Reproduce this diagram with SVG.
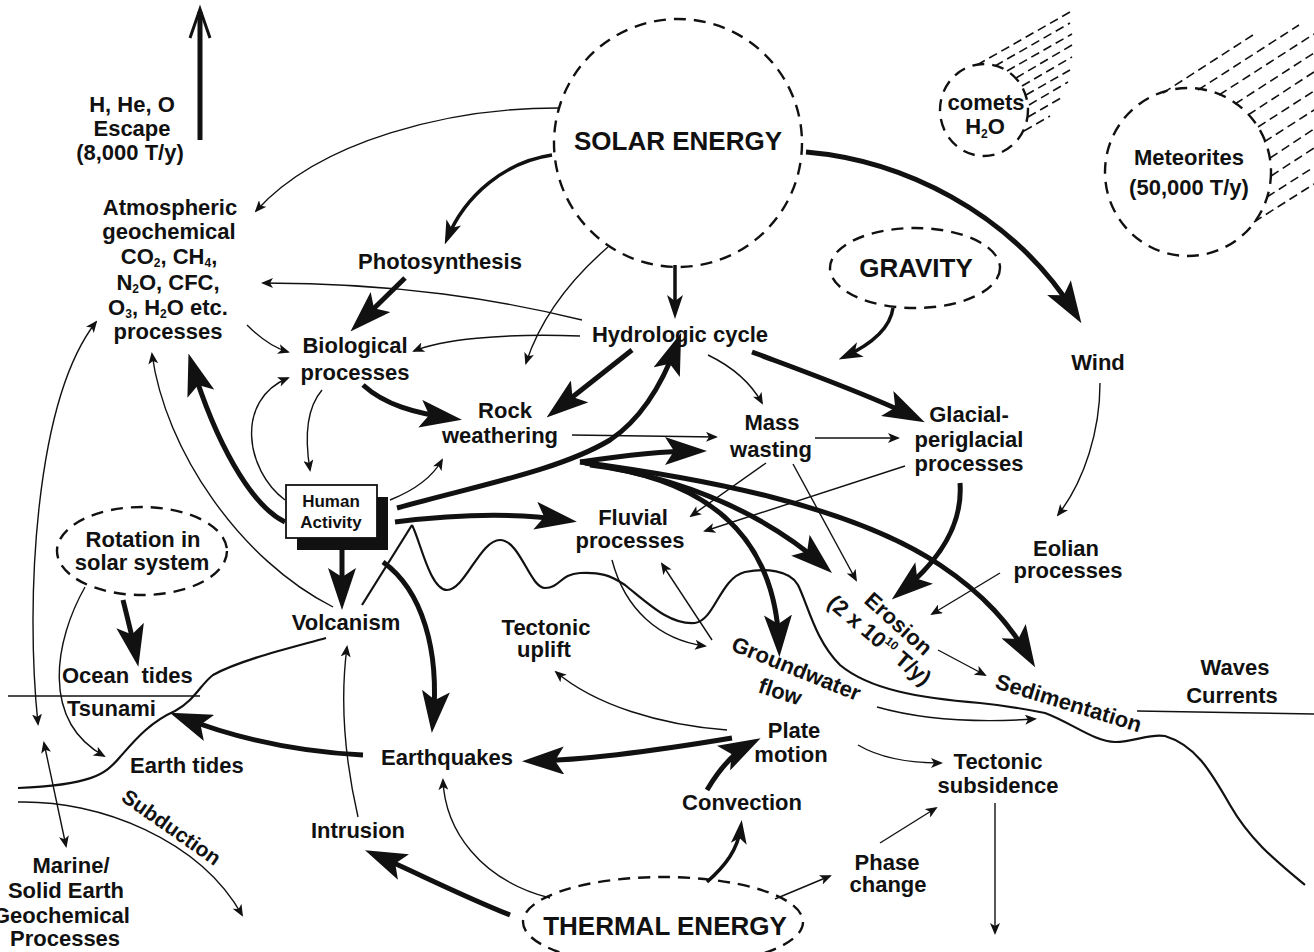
<svg xmlns="http://www.w3.org/2000/svg" width="1314" height="952" viewBox="0 0 1314 952">
<defs>
<style>
text{font-family:"Liberation Sans",Arial,Helvetica,sans-serif;font-weight:bold;font-size:22px;fill:#111}
.big{font-size:26px}
.sm{font-size:17px}
.sub{font-size:12px}
.sup{font-size:12px}
.dash{fill:none;stroke:#111;stroke-width:2.4;stroke-dasharray:12 8}
.tail{fill:none;stroke:#111;stroke-width:1.6;stroke-dasharray:9 5}
.thin{fill:none;stroke:#111;stroke-width:1.4;marker-end:url(#ah)}
.dbl{fill:none;stroke:#111;stroke-width:1.4;marker-end:url(#ah);marker-start:url(#ahs)}
.med{fill:none;stroke:#111;stroke-width:3.5;marker-end:url(#am)}
.thick{fill:none;stroke:#111;stroke-width:5;marker-end:url(#ab)}
.line{fill:none;stroke:#111;stroke-width:2.2}
.line1{fill:none;stroke:#111;stroke-width:1.5}
</style>
<marker id="ah" markerUnits="userSpaceOnUse" markerWidth="12" markerHeight="10" refX="10" refY="5" orient="auto"><path d="M0,0 L12,5 L0,10 L3,5 z" fill="#111"/></marker>
<marker id="ahs" markerUnits="userSpaceOnUse" markerWidth="12" markerHeight="10" refX="10" refY="5" orient="auto-start-reverse"><path d="M0,0 L12,5 L0,10 L3,5 z" fill="#111"/></marker>
<marker id="am" markerUnits="userSpaceOnUse" markerWidth="24" markerHeight="16" refX="18" refY="8" orient="auto"><path d="M0,0 L24,8 L0,16 L6,8 z" fill="#111"/></marker>
<marker id="ab" markerUnits="userSpaceOnUse" markerWidth="42" markerHeight="28" refX="30" refY="14" orient="auto"><path d="M0,0 L42,14 L0,28 L9,14 z" fill="#111"/></marker>
</defs>
<rect width="1314" height="952" fill="#fff"/>

<g id="terrain">
<path class="line1" d="M8,696 L200,696"/>
<path class="line1" d="M1137,711 L1314,714"/>
<path class="line" d="M412,525 L362,605"/>
<path class="line" d="M326,638 C290,648 240,660 213,675 C200,685 195,700 175,711 C150,722 135,740 120,757 C105,775 90,785 18,788"/>
<path class="line" d="M412,525 C420,540 430,590 447,590 C465,590 480,540 500,540 C520,540 530,588 545,588 C560,588 560,574 580,573 C600,572 610,575 625,585 C650,605 670,625 695,623 C715,620 720,578 745,572 C765,568 790,570 798,585 C808,605 815,640 840,665 C870,690 920,698 980,703 C1010,706 1030,710 1045,713 C1070,722 1095,742 1115,742 C1135,742 1150,733 1165,736 C1195,745 1210,770 1230,805 C1250,840 1275,860 1305,885"/>
</g>

<g id="connectors">
<path d="M200,140 L200,12" fill="none" stroke="#111" stroke-width="5"/>
<path d="M190,38 L200,9 L210,38" fill="none" stroke="#111" stroke-width="3"/>
<path class="thin" d="M558,108 C450,108 320,140 256,211"/>
<path class="med" d="M552,155 C505,162 465,195 447,239"/>
<path class="med" d="M675,265 L675,313"/>
<path class="thin" d="M608,247 C570,280 540,320 526,363"/>
<path class="thick" d="M806,152 C900,160 1010,210 1075,313"/>
<path class="med" d="M893,308 C890,330 870,345 844,357"/>
<path class="thick" d="M405,278 L359,323"/>
<path class="thin" d="M582,320 C500,300 400,283 263,283"/>
<path class="thin" d="M580,336 C500,333 440,340 414,351"/>
<path class="thin" d="M247,325 C262,340 275,348 288,352"/>
<path class="thick" d="M363,385 C385,405 415,413 450,418"/>
<path class="thin" d="M322,390 C305,410 305,440 310,470"/>
<path class="thin" d="M285,500 C245,470 235,400 288,378"/>
<path class="thick" d="M285,522 C250,505 215,440 192,365"/>
<path class="thin" d="M333,607 C240,560 165,450 152,354"/>
<path class="thick" d="M342,550 L342,598"/>
<path class="thin" d="M390,500 C415,490 432,478 442,460"/>
<path class="thick" d="M397,508 C480,485 560,470 610,440 C640,420 662,385 677,344"/>
<path class="thick" d="M580,462 C620,456 660,451 695,451"/>
<path class="thin" d="M572,435 L716,437"/>
<path class="thin" d="M815,438 L898,438"/>
<path class="thick" d="M632,350 L556,410"/>
<path class="thin" d="M708,355 C735,368 752,385 762,403"/>
<path class="thick" d="M752,352 C800,370 870,395 914,417"/>
<path class="thick" d="M960,483 C963,525 940,560 901,592"/>
<path class="thin" d="M1100,383 C1100,430 1085,480 1058,515"/>
<path class="thin" d="M1000,573 L932,614"/>
<path class="thick" d="M580,462 C700,478 850,505 940,565 C985,595 1010,625 1029,657"/>
<path class="thick" d="M585,463 C680,478 760,510 823,565"/>
<path class="thick" d="M590,465 C700,478 775,530 779,645"/>
<path class="thin" d="M766,463 L691,516"/>
<path class="thin" d="M905,466 L705,531"/>
<path class="thin" d="M793,464 L856,580"/>
<path class="thick" d="M395,522 C450,515 510,512 565,520"/>
<path class="thick" d="M383,562 C422,590 440,650 433,721"/>
<path class="thick" d="M363,755 C300,752 240,740 181,717"/>
<path class="thick" d="M732,738 C660,750 590,760 534,761"/>
<path class="thin" d="M727,730 C660,725 595,705 556,672"/>
<path class="thick" d="M707,790 C720,768 735,752 750,744"/>
<path class="med" d="M707,882 C725,866 738,850 741,826"/>
<path class="thin" d="M550,898 C480,880 445,830 443,780"/>
<path class="thick" d="M510,915 C460,895 415,872 376,855"/>
<path class="thin" d="M775,899 L830,876"/>
<path class="thin" d="M880,843 L936,808"/>
<path class="thin" d="M358,817 C345,760 340,700 347,647"/>
<path class="thin" d="M858,745 C880,758 910,763 941,763"/>
<path class="thin" d="M877,707 C930,722 990,722 1035,719"/>
<path class="thin" d="M712,640 L662,564"/>
<path class="thin" d="M612,560 C625,610 660,640 705,646"/>
<path class="thin" d="M938,650 L985,675"/>
<path class="thin" d="M85,587 C55,640 40,720 104,756"/>
<path class="thick" d="M123,600 C128,620 133,640 136,655"/>
<path class="dbl" d="M38,724 C25,600 35,400 96,322"/>
<path class="dbl" d="M44,743 L66,846"/>
<path class="thin" d="M995,803 L995,933"/>
<path class="thin" d="M18,802 C100,800 200,840 242,915"/>
</g>

<g id="escape">
<text x="132" y="112" text-anchor="middle">H, He, O</text>
<text x="132" y="136" text-anchor="middle">Escape</text>
<text x="130" y="160" text-anchor="middle">(8,000 T/y)</text>
</g>

<g id="atmospheric">
<text x="170" y="215" text-anchor="middle">Atmospheric</text>
<text x="169" y="239" text-anchor="middle">geochemical</text>
<text x="169" y="264" text-anchor="middle">CO<tspan class="sub" dy="3">2</tspan><tspan dy="-3">, CH</tspan><tspan class="sub" dy="3">4</tspan><tspan dy="-3">,</tspan></text>
<text x="168" y="290" text-anchor="middle">N<tspan class="sub" dy="3">2</tspan><tspan dy="-3">O, CFC,</tspan></text>
<text x="168" y="315" text-anchor="middle">O<tspan class="sub" dy="3">3</tspan><tspan dy="-3">, H</tspan><tspan class="sub" dy="3">2</tspan><tspan dy="-3">O etc.</tspan></text>
<text x="168" y="339" text-anchor="middle">processes</text>
</g>

<g id="solar">
<circle class="dash" cx="678" cy="143" r="124"/>
<text class="big" x="678" y="150" text-anchor="middle">SOLAR ENERGY</text>
</g>

<g id="comets">
<path class="tail" d="M977,65 L1070,12 M995,66 L1070,23 M1007,71 L1072,34 M1016,78 L1072,45 M1022,86 L1072,57 M1026,95 L1070,70 M1029,105 L1068,82 M1028,117 L1061,98 M1024,131 L1050,116"/>
<ellipse class="dash" cx="984" cy="110" rx="44" ry="46"/>
<text x="986" y="110" text-anchor="middle">comets</text>
<text x="985" y="134" text-anchor="middle">H<tspan class="sub" dy="4">2</tspan><tspan dy="-4">O</tspan></text>
</g>

<g id="meteorites">
<path class="tail" d="M1163,93 L1256,33 M1198,90 L1299,25 M1219,95 L1314,34 M1235,104 L1314,53 M1248,115 L1314,72 M1258,127 L1314,91 M1264,142 L1314,110 M1270,158 L1314,129 M1271,176 L1314,148 M1267,197 L1314,167 M1254,222 L1314,184"/>
<ellipse class="dash" cx="1188" cy="172" rx="83" ry="84"/>
<text x="1189" y="165" text-anchor="middle">Meteorites</text>
<text x="1189" y="195" text-anchor="middle">(50,000 T/y)</text>
</g>

<g id="gravity">
<ellipse class="dash" cx="915" cy="268" rx="85" ry="40"/>
<text class="big" x="916" y="277" text-anchor="middle">GRAVITY</text>
</g>

<g id="photosynthesis"><text x="440" y="269" text-anchor="middle">Photosynthesis</text></g>
<g id="hydrologic"><text x="680" y="342" text-anchor="middle">Hydrologic cycle</text></g>
<g id="biological">
<text x="355" y="353" text-anchor="middle">Biological</text>
<text x="355" y="380" text-anchor="middle">processes</text>
</g>
<g id="rock">
<text x="505" y="418" text-anchor="middle">Rock</text>
<text x="500" y="443" text-anchor="middle">weathering</text>
</g>
<g id="mass">
<text x="772" y="430" text-anchor="middle">Mass</text>
<text x="771" y="457" text-anchor="middle">wasting</text>
</g>
<g id="glacial">
<text x="969" y="422" text-anchor="middle">Glacial-</text>
<text x="969" y="447" text-anchor="middle">periglacial</text>
<text x="969" y="471" text-anchor="middle">processes</text>
</g>
<g id="wind"><text x="1098" y="370" text-anchor="middle">Wind</text></g>
<g id="eolian">
<text x="1066" y="556" text-anchor="middle">Eolian</text>
<text x="1068" y="578" text-anchor="middle">processes</text>
</g>
<g id="fluvial">
<text x="633" y="525" text-anchor="middle">Fluvial</text>
<text x="630" y="548" text-anchor="middle">processes</text>
</g>
<g id="human">
<rect x="297" y="497" width="91" height="53" fill="#111"/>
<rect x="286" y="485" width="91" height="53" fill="#fff" stroke="#111" stroke-width="1.8"/>
<text class="sm" x="331" y="507" text-anchor="middle">Human</text>
<text class="sm" x="331" y="528" text-anchor="middle">Activity</text>
</g>
<g id="rotation">
<ellipse class="dash" cx="142" cy="551" rx="85" ry="44"/>
<text x="143" y="547" text-anchor="middle">Rotation in</text>
<text x="142" y="570" text-anchor="middle">solar system</text>
</g>
<g id="volcanism"><text x="346" y="630" text-anchor="middle">Volcanism</text></g>
<g id="ocean"><text x="62" y="683" style="white-space:pre">Ocean  tides</text></g>
<g id="tsunami"><text x="67" y="716">Tsunami</text></g>
<g id="earthtides"><text x="130" y="773">Earth tides</text></g>
<g id="subduction"><text x="120" y="800" transform="rotate(35 120 800)" style="font-size:21px">Subduction</text></g>
<g id="marine">
<text x="71" y="873" text-anchor="middle">Marine/</text>
<text x="66" y="898" text-anchor="middle">Solid Earth</text>
<text x="-7" y="923">Geochemical</text>
<text x="10" y="946">Processes</text>
</g>
<g id="uplift">
<text x="546" y="635" text-anchor="middle">Tectonic</text>
<text x="544" y="657" text-anchor="middle">uplift</text>
</g>
<g id="groundwater">
<text x="730" y="650" transform="rotate(22 730 650)">Groundwater</text>
<text x="757" y="692" transform="rotate(18 757 692)">flow</text>
</g>
<g id="erosion">
<text x="863" y="602" transform="rotate(42 863 602)">Erosion</text>
<text x="826" y="605" transform="rotate(40 826 605)">(2 x 10<tspan class="sup" dy="-9">10</tspan><tspan dy="9"> T/y)</tspan></text>
</g>
<g id="sedimentation"><text x="994" y="688" transform="rotate(17 994 688)">Sedimentation</text></g>
<g id="waves">
<text x="1235" y="675" text-anchor="middle">Waves</text>
<text x="1232" y="703" text-anchor="middle">Currents</text>
</g>
<g id="plate">
<text x="794" y="738" text-anchor="middle">Plate</text>
<text x="791" y="762" text-anchor="middle">motion</text>
</g>
<g id="earthquakes"><text x="447" y="765" text-anchor="middle">Earthquakes</text></g>
<g id="convection"><text x="742" y="810" text-anchor="middle">Convection</text></g>
<g id="intrusion"><text x="358" y="838" text-anchor="middle">Intrusion</text></g>
<g id="phase">
<text x="887" y="870" text-anchor="middle">Phase</text>
<text x="888" y="892" text-anchor="middle">change</text>
</g>
<g id="subsidence">
<text x="998" y="769" text-anchor="middle">Tectonic</text>
<text x="998" y="793" text-anchor="middle">subsidence</text>
</g>
<g id="thermal">
<ellipse class="dash" cx="663" cy="922" rx="140" ry="45"/>
<text class="big" x="665" y="935" text-anchor="middle">THERMAL ENERGY</text>
</g>
</svg>
